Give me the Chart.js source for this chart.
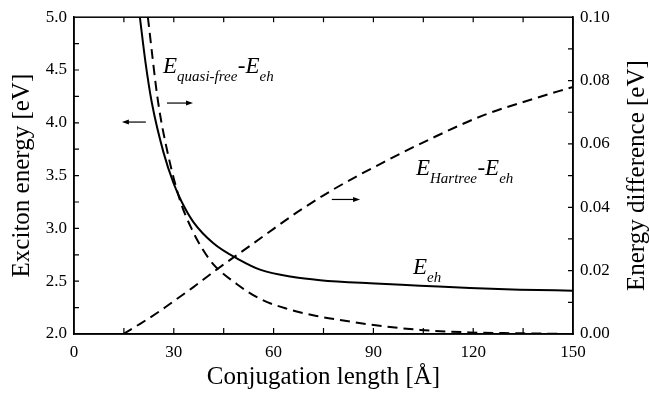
<!DOCTYPE html>
<html><head><meta charset="utf-8">
<script src="https://cdn.jsdelivr.net/npm/chart.js@4"></script>
<style>html,body{margin:0;padding:0;background:#fff}</style>
</head><body>
<canvas id="c" width="649" height="396"></canvas>
<script>
// ---- data ----
const ehX = [19.8, 21.5, 23.4, 26.9, 29.9, 32.4, 35.9, 41.9, 49.9, 55.9, 65.9, 74, 89, 104, 119, 134, 150];
const ehY = [5.0, 4.57, 4.19, 3.72, 3.43, 3.25, 3.06, 2.86, 2.70, 2.61, 2.54, 2.51, 2.48, 2.458, 2.435, 2.42, 2.41];

const quasiX = [22.2, 25.3, 28.3, 31.9, 35.4, 38.4, 41.9, 48.9, 55.9, 63.9, 72.9, 80, 89, 104, 119, 135, 150];
const quasiY = [0.100, 0.0731, 0.0565, 0.0421, 0.0331, 0.0272, 0.0220, 0.0158, 0.0111, 0.0080, 0.0057, 0.0044, 0.0030, 0.0013, 0.0005, 0.0002, 0.0];

const hartreeX = [14.8, 20, 25.9, 30, 35.9, 40.9, 44.9, 49.9, 53.9, 60, 67.9, 77.9, 93, 108, 123, 138, 150];
const hartreeY = [0, 0.0033, 0.0073, 0.0104, 0.0148, 0.0188, 0.0219, 0.0256, 0.0286, 0.0332, 0.0390, 0.0456, 0.0542, 0.0620, 0.0690, 0.0742, 0.0780];

const xTickLabels = [0, 30, 60, 90, 120, 150];
const xTickMarks = [15, 30, 45, 60, 75, 90, 105, 120, 135];
const leftTickMarks = [2.25, 2.5, 2.75, 3.0, 3.25, 3.5, 3.75, 4.0, 4.25, 4.5, 4.75];
const rightTickMarks = [0.01, 0.02, 0.03, 0.04, 0.05, 0.06, 0.07, 0.08, 0.09];

const xTitle = 'Conjugation length [Å]';
const leftTitle = 'Exciton energy [eV]';
const rightTitle = 'Energy difference [eV]';

const pts = (xs, ys) => xs.map((x, i) => ({x, y: ys[i]}));
const SERIF = '"Liberation Serif", "Times New Roman", serif';

const decor = {
  id: 'decor',
  afterDatasetsDraw(chart) {
    const {ctx, chartArea: a, scales} = chart;
    const x = scales.x, yL = scales.yL, yR = scales.yR;
    ctx.save();
    ctx.strokeStyle = '#000';
    ctx.fillStyle = '#000';
    // frame
    ctx.lineWidth = 1.5;
    ctx.strokeRect(a.left, a.top, a.right - a.left, a.bottom - a.top);
    // inward ticks
    ctx.lineWidth = 1.2;
    ctx.beginPath();
    for (const v of xTickMarks) {
      const p = x.getPixelForValue(v);
      ctx.moveTo(p, a.bottom); ctx.lineTo(p, a.bottom - 6);
      ctx.moveTo(p, a.top); ctx.lineTo(p, a.top + 5);
    }
    for (const v of leftTickMarks) {
      const p = yL.getPixelForValue(v);
      ctx.moveTo(a.left, p); ctx.lineTo(a.left + 5, p);
    }
    for (const v of rightTickMarks) {
      const p = yR.getPixelForValue(v);
      ctx.moveTo(a.right, p); ctx.lineTo(a.right - 5, p);
    }
    ctx.stroke();

    // labels with subscripts
    const big = 'italic 23px ' + SERIF, sub = 'italic 15px ' + SERIF;
    function label(xv, yv, parts) {
      let px = x.getPixelForValue(xv), py = yL.getPixelForValue(yv);
      ctx.textBaseline = 'alphabetic'; ctx.textAlign = 'left';
      for (const [t, isSub] of parts) {
        ctx.font = isSub ? sub : big;
        ctx.fillText(t, px, isSub ? py + 8 : py);
        px += ctx.measureText(t).width + (isSub ? 0.5 : 0);
      }
    }
    label(26.75, 4.474, [['E', 0], ['quasi-free', 1], ['-E', 0], ['eh', 1]]);
    label(102.8, 3.505, [['E', 0], ['Hartree', 1], ['-E', 0], ['eh', 1]]);
    label(101.9, 2.57, [['E', 0], ['eh', 1]]);

    // arrows
    function arrow(x0, x1, yv) {
      const p0 = x.getPixelForValue(x0), p1 = x.getPixelForValue(x1), py = yL.getPixelForValue(yv);
      const dir = Math.sign(p1 - p0);
      ctx.lineWidth = 1.2;
      ctx.beginPath(); ctx.moveTo(p0, py); ctx.lineTo(p1 - dir * 5, py); ctx.stroke();
      ctx.beginPath(); ctx.moveTo(p1, py); ctx.lineTo(p1 - dir * 7, py - 2.5); ctx.lineTo(p1 - dir * 7, py + 2.5); ctx.closePath(); ctx.fill();
    }
    arrow(21.6, 14.4, 4.007);
    arrow(27.95, 35.77, 4.187);
    arrow(77.5, 86.0, 3.274);

    // right axis title (reads bottom to top)
    ctx.save();
    ctx.translate(637, (a.top + a.bottom) / 2);
    ctx.rotate(-Math.PI / 2);
    ctx.font = '25px ' + SERIF;
    ctx.textAlign = 'center'; ctx.textBaseline = 'middle';
    ctx.fillText(rightTitle, 0, 0);
    ctx.restore();
    ctx.restore();
  }
};

const tickFont = {family: SERIF, size: 17};
const titleFont = {family: SERIF, size: 25, lineHeight: 1};

new Chart(document.getElementById('c'), {
  type: 'line',
  data: {
    datasets: [
      {label: 'E_eh', data: pts(ehX, ehY), yAxisID: 'yL', borderColor: '#000', borderWidth: 2, pointRadius: 0, cubicInterpolationMode: 'monotone', fill: false},
      {label: 'E_quasi-free - E_eh', data: pts(quasiX, quasiY), yAxisID: 'yR', borderColor: '#000', borderWidth: 2, borderDash: [10, 6], pointRadius: 0, cubicInterpolationMode: 'monotone', fill: false},
      {label: 'E_Hartree - E_eh', data: pts(hartreeX, hartreeY), yAxisID: 'yR', borderColor: '#000', borderWidth: 2, borderDash: [10, 6], pointRadius: 0, cubicInterpolationMode: 'monotone', fill: false}
    ]
  },
  options: {
    responsive: false,
    animation: false,
    devicePixelRatio: 1,
    layout: {padding: {top: 13, left: 0, right: 0, bottom: 0}},
    plugins: {legend: {display: false}, tooltip: {enabled: false}},
    scales: {
      x: {
        type: 'linear', min: 0, max: 150,
        afterBuildTicks: s => { s.ticks = xTickLabels.map(v => ({value: v})); },
        ticks: {font: tickFont, color: '#000', padding: 8, maxRotation: 0, callback: v => String(v)},
        grid: {display: false, drawTicks: false},
        border: {display: true, color: '#000', width: 1.5},
        title: {display: true, text: xTitle, font: titleFont, color: '#000', padding: {top: 0, bottom: 6}},
        afterFit: s => { s.height = 62; }
      },
      yL: {
        type: 'linear', position: 'left', min: 2, max: 5,
        ticks: {stepSize: 0.5, font: tickFont, color: '#000', padding: 7, callback: v => Number(v).toFixed(1)},
        grid: {display: false, drawTicks: false},
        border: {display: true, color: '#000', width: 1.5},
        title: {display: true, text: leftTitle, font: titleFont, color: '#000', padding: {top: 10, bottom: 0}},
        afterFit: s => { s.width = 74; }
      },
      yR: {
        type: 'linear', position: 'right', min: 0, max: 0.1,
        ticks: {stepSize: 0.02, font: tickFont, color: '#000', padding: 7, callback: v => Number(v).toFixed(2)},
        grid: {display: false, drawTicks: false},
        border: {display: true, color: '#000', width: 1.5},
        afterFit: s => { s.width = 76; }
      }
    }
  },
  plugins: [decor]
});
</script>
</body></html>
